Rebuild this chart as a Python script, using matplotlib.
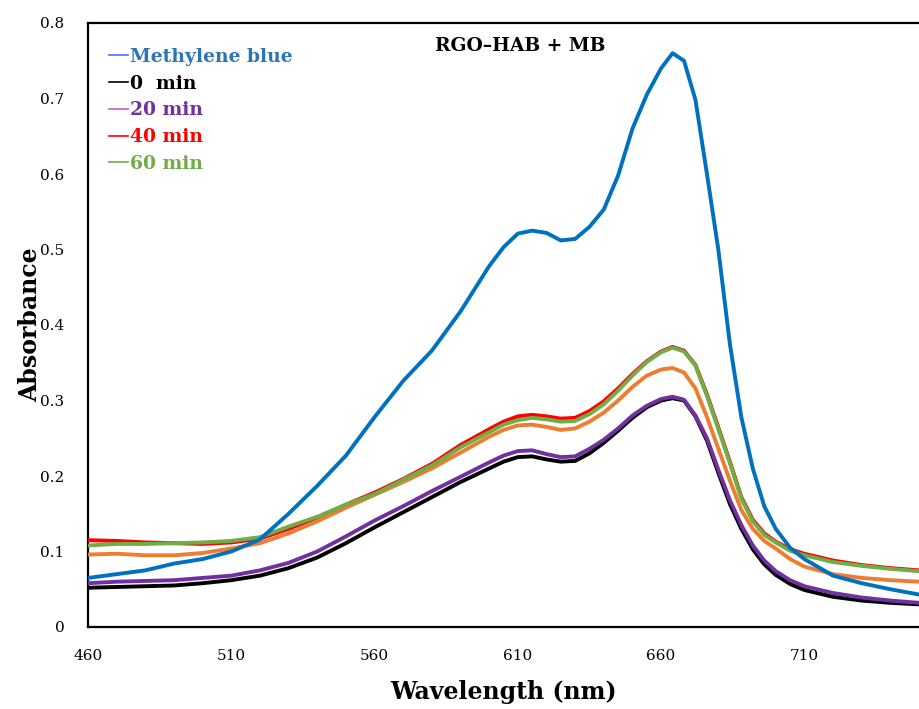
import matplotlib
matplotlib.use("Agg")
import matplotlib.pyplot as plt
from matplotlib.lines import Line2D

wavelength = [460, 470, 480, 490, 500, 510, 520, 530, 540, 550, 560, 570, 580, 590, 600,
              605, 610, 615, 620, 625, 630, 635, 640, 645, 650, 655, 660,
              664, 668, 672, 676, 680, 684, 688, 692, 696, 700,
              705, 710, 720, 730, 740, 750]

methylene_blue = [0.065, 0.070, 0.075, 0.084, 0.090, 0.100, 0.116, 0.150, 0.187, 0.227, 0.278, 0.326, 0.366, 0.418, 0.478,
                  0.503, 0.521, 0.525, 0.522, 0.512, 0.514, 0.530, 0.553, 0.598, 0.660, 0.705, 0.740,
                  0.760, 0.750, 0.698, 0.600, 0.499, 0.375, 0.278, 0.210, 0.160, 0.130,
                  0.105, 0.090, 0.068, 0.058, 0.050, 0.043]

min0 = [0.052, 0.053, 0.054, 0.055, 0.058, 0.062, 0.068, 0.078, 0.092, 0.111, 0.132, 0.152, 0.172, 0.192, 0.210,
        0.219, 0.225, 0.226, 0.222, 0.219, 0.220, 0.230, 0.244, 0.260, 0.277, 0.291, 0.300,
        0.303, 0.300, 0.279, 0.247, 0.204, 0.163, 0.130, 0.103, 0.083, 0.069,
        0.057, 0.049, 0.040, 0.035, 0.032, 0.030]

min20 = [0.058, 0.060, 0.061, 0.062, 0.065, 0.068, 0.075, 0.085, 0.100, 0.120, 0.141, 0.160, 0.180, 0.199, 0.218,
         0.227, 0.233, 0.234, 0.229, 0.225, 0.226, 0.236, 0.248, 0.263, 0.280, 0.293, 0.302,
         0.305, 0.301, 0.280, 0.250, 0.208, 0.168, 0.135, 0.108, 0.088, 0.074,
         0.062, 0.054, 0.045, 0.039, 0.035, 0.032]

min40 = [0.115, 0.114, 0.112, 0.111, 0.110, 0.112, 0.117, 0.130, 0.145, 0.162, 0.178, 0.196, 0.216, 0.241, 0.262,
         0.272, 0.279, 0.281, 0.279, 0.276, 0.277, 0.286, 0.299, 0.316, 0.335, 0.352, 0.365,
         0.371, 0.366, 0.347, 0.308, 0.264, 0.219, 0.172, 0.142, 0.124, 0.113,
         0.103, 0.097, 0.088, 0.082, 0.078, 0.075]

extra = [0.096, 0.097, 0.095, 0.095, 0.098, 0.104, 0.111, 0.124, 0.140, 0.158, 0.175, 0.192, 0.210, 0.231, 0.252,
         0.261, 0.267, 0.268, 0.265, 0.261, 0.263, 0.272, 0.284, 0.300, 0.318, 0.333, 0.341,
         0.343, 0.337, 0.316, 0.278, 0.236, 0.194, 0.155, 0.130, 0.114, 0.104,
         0.090, 0.080, 0.070, 0.065, 0.062, 0.060]

min60 = [0.108, 0.110, 0.110, 0.111, 0.112, 0.114, 0.119, 0.133, 0.146, 0.162, 0.176, 0.195, 0.214, 0.238, 0.258,
         0.268, 0.274, 0.277, 0.275, 0.272, 0.273, 0.282, 0.295, 0.313, 0.333, 0.351, 0.364,
         0.370, 0.365, 0.346, 0.306, 0.262, 0.217, 0.170, 0.140, 0.122, 0.112,
         0.101, 0.095, 0.086, 0.081, 0.077, 0.074]

legend_labels = ["Methylene blue", "0  min", "20 min", "40 min", "60 min"]
x_ticks = [460, 510, 560, 610, 660, 710]
y_ticks = [0, 0.1, 0.2, 0.3, 0.4, 0.5, 0.6, 0.7, 0.8]
y_tick_labels = ["0", "0.1", "0.2", "0.3", "0.4", "0.5", "0.6", "0.7", "0.8"]

SERIF = "DejaVu Serif"

fig = plt.figure(figsize=(9.19, 7.09), dpi=100)
ax = fig.add_axes([88 / 919, 82 / 709, 1 - 88 / 919, 604 / 709])

lw = 2.8
ax.plot(wavelength, min0, color="#000000", lw=lw, zorder=2)
ax.plot(wavelength, min20, color="#7030A0", lw=lw, zorder=3)
ax.plot(wavelength, min40, color="#FF0000", lw=lw, zorder=4)
ax.plot(wavelength, extra, color="#ED7D31", lw=lw, zorder=5)
ax.plot(wavelength, min60, color="#70AD47", lw=lw, zorder=6)
ax.plot(wavelength, methylene_blue, color="#0070C0", lw=lw, zorder=7)

ax.set_xlim(460, 750)
ax.set_ylim(0, 0.8)
ax.set_xticks(x_ticks)
ax.set_xticklabels([str(t) for t in x_ticks], fontfamily=SERIF, fontsize=11)
ax.set_yticks(y_ticks)
ax.set_yticklabels(y_tick_labels, fontfamily=SERIF, fontsize=11)
ax.tick_params(axis="both", length=0)
ax.tick_params(axis="x", pad=16)
ax.tick_params(axis="y", pad=17)

for s in ["left", "bottom", "top"]:
    ax.spines[s].set_linewidth(1.6)
ax.spines["right"].set_visible(False)

ax.set_xlabel("Wavelength (nm)", fontfamily=SERIF, fontsize=17, fontweight="bold", labelpad=12)
ax.set_ylabel("Absorbance", fontfamily=SERIF, fontsize=17, fontweight="bold")
ax.yaxis.set_label_coords((42 - 88) / 831, 0.5)

ax.text((520 - 88) / 831, (627 - 46) / 604, "RGO\u2013HAB + MB", transform=ax.transAxes,
        ha="center", va="center", fontfamily=SERIF, fontsize=13.5, fontweight="bold")

handle_colors = ["#5B6CF0", "#000000", "#C060C0", "#FF0000", "#70AD47"]
text_colors = ["#2E75B6", "#000000", "#7030A0", "#FF0000", "#70AD47"]
handles = [Line2D([0], [0], color=c, lw=1.2) for c in handle_colors]
leg = ax.legend(handles, legend_labels, loc="upper left", bbox_to_anchor=(0.005, 0.987),
                frameon=False, handlelength=1.0, handletextpad=0.12, labelspacing=0.47,
                labelcolor=text_colors,
                prop={"family": SERIF, "weight": "bold", "size": 13.5})

fig.savefig("out.png", dpi=100)
